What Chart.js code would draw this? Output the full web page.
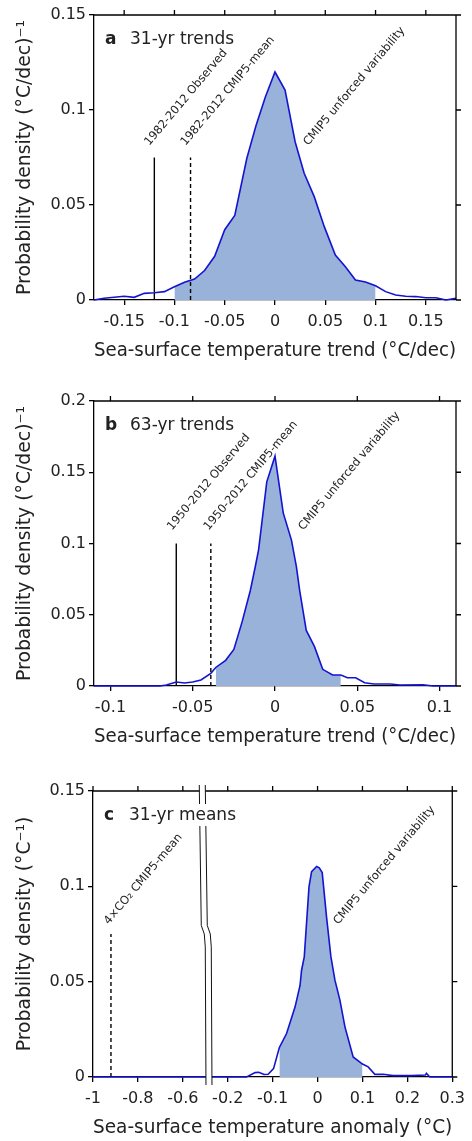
<!DOCTYPE html>
<html>
<head>
<meta charset="utf-8">
<script src="https://cdn.jsdelivr.net/npm/chart.js@4.4.1/dist/chart.umd.min.js"></script>
<style>
  html, body { margin: 0; padding: 0; background: #fff; }
  .panel { position: absolute; left: 0; width: 472px; }
</style>
</head>
<body>
<div class="panel" style="top:0;height:364px"><canvas id="chart-a"></canvas></div>
<div class="panel" style="top:364px;height:386px"><canvas id="chart-b"></canvas></div>
<div class="panel" style="top:750px;height:391px"><canvas id="chart-c"></canvas></div>
<script>
/* Sea-surface temperature PDFs: 31-yr trends, 63-yr trends, 31-yr means */

// ── a: 31-yr trends ─────────────────────────────────────────
const A_TREND = [-0.18, -0.17, -0.15, -0.14, -0.13, -0.12, -0.11, -0.10, -0.09, -0.08,
  -0.07, -0.06, -0.05, -0.04, -0.028, -0.019, -0.0095, 0, 0.01, 0.02,
  0.029, 0.039, 0.049, 0.06, 0.07, 0.08, 0.09, 0.10, 0.11, 0.12,
  0.13, 0.14, 0.15, 0.16, 0.17, 0.18];
const A_DENSITY = [0, 0.0009, 0.002, 0.0014, 0.0035, 0.0038, 0.0044, 0.007, 0.0093, 0.011,
  0.0155, 0.023, 0.037, 0.0445, 0.0746, 0.0916, 0.107, 0.120, 0.1105, 0.0833,
  0.0667, 0.0544, 0.0386, 0.0237, 0.0175, 0.0105, 0.0095, 0.0075, 0.0044, 0.0026,
  0.002, 0.0018, 0.0012, 0.0012, 0, 0.0009];
const A_SHADE = [-0.10, 0.10];
const A_XTICKS = [-0.15, -0.1, -0.05, 0, 0.05, 0.1, 0.15];
const A_YTICKS = [0, 0.05, 0.1, 0.15];
const A_OBSERVED = -0.12;
const A_CMIP_MEAN = -0.084;
const A_MARK_TOP = 0.075;
const A_NOTE_TEXT = ['1982-2012 Observed', '1982-2012 CMIP5-mean', 'CMIP5 unforced variability'];
const A_NOTE_X = [-0.125, -0.089, 0.033];
const A_NOTE_Y = [0.081, 0.081, 0.081];

// ── b: 63-yr trends ─────────────────────────────────────────
const B_TREND = [-0.11, -0.07, -0.066, -0.06, -0.055, -0.05, -0.045, -0.039, -0.036, -0.03,
  -0.025, -0.02, -0.015, -0.012, -0.01, -0.005, 0, 0.005, 0.01, 0.013,
  0.015, 0.019, 0.024, 0.029, 0.035, 0.04, 0.044, 0.049, 0.0545, 0.06,
  0.07, 0.076, 0.09, 0.096, 0.11];
const B_DENSITY = [0, 0, 0.0007, 0.0028, 0.0021, 0.0028, 0.0042, 0.0089, 0.013, 0.018,
  0.0257, 0.045, 0.067, 0.0837, 0.0954, 0.1433, 0.1613, 0.1215, 0.1024, 0.0837,
  0.067, 0.039, 0.0276, 0.0117, 0.0077, 0.0077, 0.0058, 0.0058, 0.0023, 0.0014,
  0.0014, 0.0007, 0.0009, 0, 0];
const B_SHADE = [-0.036, 0.04];
const B_XTICKS = [-0.1, -0.05, 0, 0.05, 0.1];
const B_YTICKS = [0, 0.05, 0.1, 0.15, 0.2];
const B_OBSERVED = -0.06;
const B_CMIP_MEAN = -0.039;
const B_MARK_TOP = 0.1;
const B_NOTE_TEXT = ['1950-2012 Observed', '1950-2012 CMIP5-mean', 'CMIP5 unforced variability'];
const B_NOTE_X = [-0.0626, -0.0404, 0.0172];
const B_NOTE_Y = [0.109, 0.109, 0.109];

// ── c: 31-yr means (broken x axis) ──────────────────────────
const C_ANOMALY = [-1, -0.158, -0.139, -0.131, -0.119, -0.11, -0.098, -0.085, -0.069, -0.05,
  -0.039, -0.0356, -0.0296, -0.019, -0.0133, -0.002, 0.0038, 0.0104, 0.02, 0.0298,
  0.0387, 0.0498, 0.061, 0.0793, 0.1, 0.1127, 0.1276, 0.146, 0.168, 0.21,
  0.24, 0.2424, 0.25, 0.3];
const C_DENSITY = [0, 0, 0.0023, 0.0025, 0.0013, 0.0014, 0.0044, 0.0155, 0.0228, 0.0368,
  0.048, 0.056, 0.063, 0.0998, 0.1077, 0.1104, 0.1097, 0.1072, 0.084, 0.063,
  0.0508, 0.0403, 0.0263, 0.0105, 0.0068, 0.0053, 0.0014, 0.0014, 0.0007, 0.0007,
  0.001, 0.0019, 0, 0];
const C_SHADE = [-0.085, 0.1];
const C_XTICKS = [-1, -0.8, -0.6, -0.2, -0.1, 0, 0.1, 0.2, 0.3];
const C_YTICKS = [0, 0.05, 0.1, 0.15];
const C_CO2_MEAN = -0.92;
const C_MARK_TOP = 0.075;
const C_NOTE_TEXT = ['4×CO₂ CMIP5-mean', 'CMIP5 unforced variability'];
const C_NOTE_X = [-0.93, 0.046];
const C_NOTE_Y = [0.0797, 0.0797];
const C_BREAK = -0.25;   // axis position of the break

// left of the break the axis runs at half scale
function squeeze(v) { return v <= -0.5 ? C_BREAK + (v + 0.5) / 2 : v; }

const FONT = "'DejaVu Sans', sans-serif";
const INK = '#222';
const BLUE = '#1414d0';
const SHADE = '#98b2d9';

function points(xs, ys, map) {
  return xs.map((x, i) => ({ x: map(x), y: ys[i] }));
}

/* ── plugins ─────────────────────────────────────────────── */

// top/right frame with outward ticks
const framePlugin = {
  id: 'frame',
  afterDraw(chart) {
    const { ctx, chartArea: { left, right, top, bottom }, scales: { x, y } } = chart;
    ctx.save();
    ctx.strokeStyle = '#000';
    ctx.lineWidth = 1.3;
    ctx.beginPath();
    ctx.moveTo(left, top);
    ctx.lineTo(right, top);
    ctx.lineTo(right, bottom);
    x.ticks.forEach(t => {
      const px = x.getPixelForValue(t.value);
      ctx.moveTo(px, top);
      ctx.lineTo(px, top - 5);
    });
    y.ticks.forEach(t => {
      const py = y.getPixelForValue(t.value);
      ctx.moveTo(right, py);
      ctx.lineTo(right + 5, py);
    });
    ctx.stroke();
    ctx.restore();
  },
};

const breakPlugin = {
  id: 'axisBreak',
  afterDraw(chart, args, opts) {
    if (opts.at === undefined) return;
    const { ctx, chartArea: { top, bottom }, scales: { x } } = chart;
    const bx = x.getPixelForValue(opts.at);
    const h = bottom - top;
    const edge = dx => [
      [bx - 6 + dx, top - 6],
      [bx - 4 + dx, top + h * 0.47],
      [bx - 1 + dx, top + h * 0.5],
      [bx + dx, top + h * 0.545],
      [bx + 0.7 + dx, bottom + 8],
    ];
    const l = edge(0), r = edge(6);
    ctx.save();
    ctx.fillStyle = '#fff';
    ctx.beginPath();
    l.forEach(([px, py], i) => (i ? ctx.lineTo(px, py) : ctx.moveTo(px, py)));
    r.slice().reverse().forEach(([px, py]) => ctx.lineTo(px, py));
    ctx.closePath();
    ctx.fill();
    ctx.strokeStyle = '#111';
    ctx.lineWidth = 1;
    [l, r].forEach(line => {
      ctx.beginPath();
      line.forEach(([px, py], i) => (i ? ctx.lineTo(px, py) : ctx.moveTo(px, py)));
      ctx.stroke();
    });
    ctx.restore();
  },
};

// panel letter, title and rotated annotations
const labelPlugin = {
  id: 'labels',
  afterDraw(chart, args, opts) {
    const { ctx, chartArea: { left, top }, scales: { x, y } } = chart;
    ctx.save();
    ctx.textBaseline = 'alphabetic';
    ctx.textAlign = 'left';
    ctx.font = `17px ${FONT}`;
    const w = ctx.measureText(opts.title).width;
    ctx.fillStyle = '#fff';
    ctx.fillRect(left + 34, top + 13, w + 4, 22);
    ctx.fillStyle = INK;
    ctx.fillText(opts.title, left + 36, top + 29);
    ctx.font = `bold 17px ${FONT}`;
    ctx.fillText(opts.letter, left + 11, top + 29);

    ctx.font = `11.5px ${FONT}`;
    opts.notes.forEach(n => {
      ctx.save();
      ctx.translate(x.getPixelForValue(n.x), y.getPixelForValue(n.y));
      ctx.rotate(-50 * Math.PI / 180);
      ctx.fillText(n.text, 0, 0);
      ctx.restore();
    });
    ctx.restore();
  },
};

/* ── chart builder ───────────────────────────────────────── */

function renderPanel(cfg) {
  const map = cfg.map || (v => v);
  const curve = points(cfg.xs, cfg.ys, map);
  const shade = curve.filter(p => p.x >= map(cfg.shade[0]) && p.x <= map(cfg.shade[1]));

  const datasets = [{
    data: curve,
    borderColor: BLUE,
    borderWidth: 1.6,
    pointRadius: 0,
    fill: false,
    clip: false,
  }];
  cfg.marks.forEach(m => {
    datasets.push({
      data: [{ x: map(m.x), y: 0 }, { x: map(m.x), y: m.top }],
      borderColor: '#000',
      borderWidth: 1.4,
      borderDash: m.dashed ? [4, 3] : [],
      pointRadius: 0,
      fill: false,
    });
  });
  datasets.push({
    data: shade,
    borderWidth: 0,
    borderColor: 'rgba(0,0,0,0)',
    backgroundColor: SHADE,
    pointRadius: 0,
    fill: 'origin',
  });

  const notes = cfg.noteText.map((t, i) => ({ text: t, x: map(cfg.noteX[i]), y: cfg.noteY[i] }));

  return new Chart(document.getElementById(cfg.id), {
    type: 'line',
    data: { datasets },
    plugins: [framePlugin, breakPlugin, labelPlugin],
    options: {
      responsive: true,
      maintainAspectRatio: false,
      animation: false,
      layout: { padding: { top: cfg.padTop, right: cfg.padRight, left: 0, bottom: 0 } },
      plugins: {
        legend: { display: false },
        tooltip: { enabled: false },
        labels: { letter: cfg.letter, title: cfg.title, notes },
        axisBreak: { at: cfg.breakAt },
      },
      scales: {
        x: {
          type: 'linear',
          min: cfg.xmin,
          max: cfg.xmax,
          afterBuildTicks: s => { s.ticks = cfg.xticks.map(v => ({ value: map(v) })); },
          afterFit: s => { s.height = 64; },
          ticks: {
            callback: (v, i) => String(cfg.xticks[i]),
            font: { family: FONT, size: 16 },
            color: INK,
            padding: 7,
            maxRotation: 0,
            autoSkip: false,
          },
          grid: { drawOnChartArea: false, tickLength: 5, color: '#000', lineWidth: 1.3 },
          border: { color: '#000', width: 1.3 },
          title: {
            display: true,
            text: cfg.xtitle,
            font: { family: FONT, size: 18.8 },
            color: INK,
            padding: { top: 0, bottom: 2 },
          },
        },
        y: {
          type: 'linear',
          min: 0,
          max: cfg.ymax,
          afterBuildTicks: s => { s.ticks = cfg.yticks.map(v => ({ value: v })); },
          afterFit: s => { s.width = cfg.left; },
          ticks: {
            callback: (v, i) => String(cfg.yticks[i]),
            font: { family: FONT, size: 16 },
            color: INK,
            padding: 3,
          },
          grid: { drawOnChartArea: false, tickLength: 5, color: '#000', lineWidth: 1.3 },
          border: { color: '#000', width: 1.3 },
          title: {
            display: true,
            text: cfg.ytitle,
            font: { family: FONT, size: 18.8 },
            color: INK,
            padding: { top: 13.5, bottom: 0 },
          },
        },
      },
    },
  });
}

renderPanel({
  id: 'chart-a', letter: 'a', title: '31-yr trends',
  xs: A_TREND, ys: A_DENSITY, shade: A_SHADE,
  marks: [{ x: A_OBSERVED, top: A_MARK_TOP }, { x: A_CMIP_MEAN, top: A_MARK_TOP, dashed: true }],
  noteText: A_NOTE_TEXT, noteX: A_NOTE_X, noteY: A_NOTE_Y,
  xmin: -0.18, xmax: 0.18, xticks: A_XTICKS, ymax: 0.15, yticks: A_YTICKS,
  xtitle: 'Sea-surface temperature trend (°C/dec)',
  ytitle: 'Probability density (°C/dec)⁻¹',
  padTop: 15, padRight: 16, left: 94,
});

renderPanel({
  id: 'chart-b', letter: 'b', title: '63-yr trends',
  xs: B_TREND, ys: B_DENSITY, shade: B_SHADE,
  marks: [{ x: B_OBSERVED, top: B_MARK_TOP }, { x: B_CMIP_MEAN, top: B_MARK_TOP, dashed: true }],
  noteText: B_NOTE_TEXT, noteX: B_NOTE_X, noteY: B_NOTE_Y,
  xmin: -0.11, xmax: 0.11, xticks: B_XTICKS, ymax: 0.2, yticks: B_YTICKS,
  xtitle: 'Sea-surface temperature trend (°C/dec)',
  ytitle: 'Probability density (°C/dec)⁻¹',
  padTop: 37, padRight: 16, left: 94,
});

renderPanel({
  id: 'chart-c', letter: 'c', title: '31-yr means',
  xs: C_ANOMALY, ys: C_DENSITY, shade: C_SHADE, map: squeeze,
  marks: [{ x: C_CO2_MEAN, top: C_MARK_TOP, dashed: true }],
  noteText: C_NOTE_TEXT, noteX: C_NOTE_X, noteY: C_NOTE_Y,
  xmin: squeeze(-1), xmax: 0.3, xticks: C_XTICKS, ymax: 0.15, yticks: C_YTICKS,
  xtitle: 'Sea-surface temperature anomaly (°C)',
  ytitle: 'Probability density (°C⁻¹)',
  padTop: 41, padRight: 17, left: 93, breakAt: C_BREAK,
});
</script>
</body>
</html>
